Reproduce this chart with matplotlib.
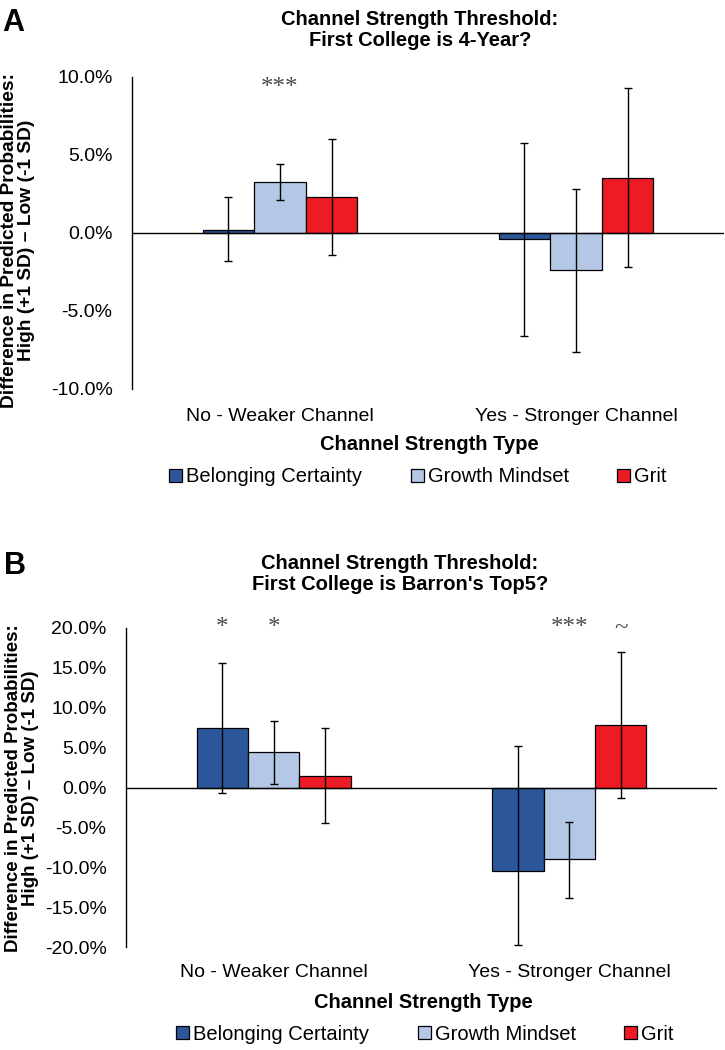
import matplotlib
matplotlib.use("Agg")
import matplotlib.pyplot as plt
import numpy as np
from matplotlib import font_manager
from matplotlib.patches import Patch

# ---- data (percentage points) ----
categories = ["No - Weaker Channel", "Yes - Stronger Channel"]
series = ["Belonging Certainty", "Growth Mindset", "Grit"]

# panel A: first college is 4-year
a_belonging = [0.2, -0.4]
a_growth = [3.25, -2.4]
a_grit = [2.3, 3.55]
a_belonging_lo = [-1.8, -6.6]
a_belonging_hi = [2.3, 5.8]
a_growth_lo = [2.1, -7.6]
a_growth_hi = [4.4, 2.8]
a_grit_lo = [-1.4, -2.2]
a_grit_hi = [6.0, 9.3]
a_ticks = [-10, -5, 0, 5, 10]
# (category index, series index, label)
a_stars = [(0, 1, "***")]

# panel B: first college is Barron's Top5
b_belonging = [7.5, -10.5]
b_growth = [4.4, -9.0]
b_grit = [1.4, 7.8]
b_belonging_lo = [-0.7, -19.8]
b_belonging_hi = [15.6, 5.25]
b_growth_lo = [0.4, -13.8]
b_growth_hi = [8.3, -4.3]
b_grit_lo = [-4.5, -1.3]
b_grit_hi = [7.4, 17.0]
b_ticks = [-20, -15, -10, -5, 0, 5, 10, 15, 20]
b_stars = [(0, 0, "*"), (0, 1, "*"), (1, 1, "***"), (1, 2, "~")]

colors = ["#2B579A", "#B4C7E7", "#ED1C24"]

plt.rcParams["font.family"] = ["Liberation Sans", "DejaVu Sans"]
plt.rcParams["axes.unicode_minus"] = False

names = {f.name for f in font_manager.fontManager.ttflist}
if "Liberation Sans Narrow" in names:
    title_font = dict(family=["Liberation Sans Narrow", "Liberation Sans"], fontsize=17.5, linespacing=1.0)
else:
    title_font = dict(family=["Liberation Sans", "DejaVu Sans"], fontsize=14.5, linespacing=1.15)

W, H = 725, 1050
fig = plt.figure(figsize=(W / 100, H / 100), dpi=100)


def fx(px):
    return px / W


def fy(py):
    return 1 - py / H


def draw_panel(ax, vals, los, his, ticks, stars, star_y, label_pad):
    x = np.arange(len(categories))
    width = 0.174
    for i, (v, lo, hi) in enumerate(zip(vals, los, his)):
        v = np.asarray(v)
        err = [v - np.asarray(lo), np.asarray(hi) - v]
        pos = x + (i - 1) * width
        ax.bar(pos, v, width, color=colors[i], edgecolor="black", linewidth=0.9, zorder=2)
        ax.errorbar(pos, v, yerr=err, fmt="none", ecolor="black", elinewidth=1.0,
                    capsize=3.0, capthick=1.0, zorder=3)
    for ci, si, txt in stars:
        ax.text(x[ci] + (si - 1) * width, star_y, txt, ha="center", va="center",
                family=["Liberation Serif", "DejaVu Serif"], fontsize=18, color="#4a4a4a",
                clip_on=False)
    ax.axhline(0, color="black", linewidth=1.0, zorder=4)
    ax.set_xlim(-0.5, len(categories) - 0.5)
    ax.set_ylim(ticks[0], ticks[-1])
    ax.set_yticks(ticks)
    ax.set_yticklabels([f"{t:.1f}%" for t in ticks])
    ax.set_xticks(x)
    ax.set_xticklabels(categories)
    ax.tick_params(axis="both", length=0, labelsize=14)
    ax.tick_params(axis="y", pad=14)
    ax.tick_params(axis="x", pad=label_pad)
    for s in ["top", "right", "bottom"]:
        ax.spines[s].set_visible(False)
    ax.spines["left"].set_linewidth(1.0)
    ax.patch.set_alpha(0)


axA = fig.add_axes([fx(132), fy(389), fx(724) - fx(132), (389 - 77) / H])
draw_panel(axA, [a_belonging, a_growth, a_grit],
           [a_belonging_lo, a_growth_lo, a_grit_lo],
           [a_belonging_hi, a_growth_hi, a_grit_hi],
           a_ticks, a_stars, 9.3, 14)

axB = fig.add_axes([fx(126), fy(947), fx(717) - fx(126), (947 - 628) / H])
draw_panel(axB, [b_belonging, b_growth, b_grit],
           [b_belonging_lo, b_growth_lo, b_grit_lo],
           [b_belonging_hi, b_growth_hi, b_grit_hi],
           b_ticks, b_stars, 20.0, 12)

# titles, panel letters, axis labels, legends
fig.text(fx(420), fy(30), "Channel Strength Threshold:\nFirst College is 4-Year?",
         ha="center", va="center", fontweight="bold", **title_font)
fig.text(fx(400), fy(574), "Channel Strength Threshold:\nFirst College is Barron's Top5?",
         ha="center", va="center", fontweight="bold", **title_font)

fig.text(fx(13), fy(23), "A", ha="center", va="center", fontsize=22, fontweight="bold")
fig.text(fx(15), fy(566), "B", ha="center", va="center", fontsize=22, fontweight="bold")

ylab = "Difference in Predicted Probabilities:\nHigh (+1 SD) \u2013 Low (-1 SD)"
fig.text(fx(18), fy(240), ylab, rotation=90, ha="center", va="center",
         fontsize=13.8, fontweight="bold", linespacing=1.05)
fig.text(fx(22), fy(788), ylab, rotation=90, ha="center", va="center",
         fontsize=13.5, fontweight="bold", linespacing=1.05)

fig.text(fx(429), fy(444), "Channel Strength Type", ha="center", va="center",
         fontsize=14.5, fontweight="bold")
fig.text(fx(423), fy(1003), "Channel Strength Type", ha="center", va="center",
         fontsize=14.5, fontweight="bold")

handles = [Patch(facecolor=c, edgecolor="black", linewidth=0.9) for c in colors]
for cx, cy in [(418, 477), (425, 1034)]:
    fig.legend(handles, series, loc="center", bbox_to_anchor=(fx(cx), fy(cy)), ncol=3,
               frameon=False, fontsize=14.5, handlelength=0.65, handleheight=0.65,
               handletextpad=0.2, columnspacing=2.4)

fig.savefig("out.png", dpi=100)
